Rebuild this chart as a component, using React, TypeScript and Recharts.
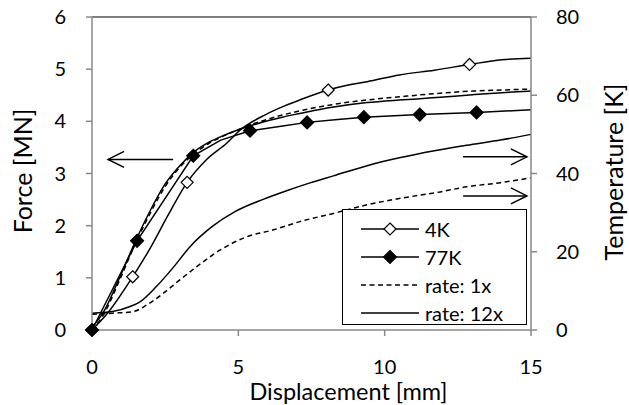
import React from "react";
import { ComposedChart, Legend, Line, ReferenceLine, XAxis, YAxis } from "recharts";

const FONT = "Lato, 'Open Sans', sans-serif";

const xTicks = [0, 5, 10, 15];
const forceTicks = [0, 1, 2, 3, 4, 5, 6];
const tempTicks = [0, 20, 40, 60, 80];

// 4K force, open diamonds
const k4X = [0, 0.5, 1.39, 2.0, 2.6, 3.25, 3.9, 4.6, 5.1, 5.9, 6.6, 7.1, 8.07, 8.8, 9.4, 10.5, 11.7, 12.9, 14, 15];
const k4Force = [0, 0.3, 1.02, 1.58, 2.2, 2.83, 3.26, 3.58, 3.85, 4.12, 4.3, 4.41, 4.6, 4.7, 4.76, 4.89, 4.98, 5.09, 5.18, 5.21];
const k4Markers = [0, 1.39, 3.25, 8.07, 12.9];

// 77K force, filled diamonds
const k77X = [0, 1.54, 3.46, 4.4, 5.4, 6.4, 7.35, 8.3, 9.29, 11.2, 13.14, 15];
const k77Force = [0, 1.71, 3.34, 3.64, 3.82, 3.9, 3.98, 4.03, 4.08, 4.13, 4.17, 4.22];
const k77Markers = [0, 1.54, 3.46, 5.4, 7.35, 9.29, 11.2, 13.14];

// rate 1x / 12x force
const rateX = [0, 0.4, 0.9, 1.5, 2.0, 2.5, 3.0, 3.5, 4.0, 4.5, 5.0, 5.5, 6.0, 6.5, 7.1, 8.2, 9.4, 10.5, 11.9, 13, 14, 15];
const rate1Force = [0, 0.3, 0.9, 1.68, 2.25, 2.75, 3.12, 3.38, 3.58, 3.72, 3.84, 3.95, 4.04, 4.12, 4.2, 4.32, 4.41, 4.47, 4.54, 4.58, 4.6, 4.62];
const rate12Force = [0.05, 0.35, 0.95, 1.72, 2.3, 2.8, 3.15, 3.42, 3.6, 3.73, 3.84, 3.93, 4.01, 4.08, 4.15, 4.27, 4.36, 4.41, 4.46, 4.51, 4.55, 4.58];

// rate 1x / 12x temperature
const rate1TempX = [0, 0.7, 1.4, 1.87, 2.44, 3.0, 3.58, 4.37, 5.28, 6.2, 7.1, 8.25, 9.4, 10.5, 11.9, 12.8, 13.9, 15];
const rate1Temp = [4, 4.3, 4.7, 6.4, 9.4, 12.8, 16.2, 20.4, 23.8, 25.6, 27.7, 29.8, 32, 33.6, 35.3, 36.6, 37.6, 38.9];
const rate12TempX = [0, 0.7, 1.3, 1.64, 2.2, 2.8, 3.35, 4.1, 4.9, 5.85, 6.65, 7.45, 8.25, 9.4, 10.5, 11.7, 12.8, 14, 15];
const rate12Temp = [4.3, 4.7, 6, 7.2, 11.1, 16.2, 21.3, 26.4, 30.3, 33.4, 35.6, 37.6, 39.4, 42.0, 44.0, 45.8, 47.2, 48.6, 50];

// annotation arrows (force axis units)
const arrowFrom = [2.77, 12.68, 12.68];
const arrowTo = [0.55, 14.86, 14.86];
const arrowY = [3.27, 3.32, 2.57];

const rows = (xs: number[], ys: number[]) => xs.map((x, i) => ({ x, y: ys[i] }));

const diamond = (cx: number, cy: number, r: number) =>
  `M${cx},${cy - r}L${cx + r},${cy}L${cx},${cy + r}L${cx - r},${cy}Z`;

const markerDot = (marks: number[], filled: boolean) => (props: any) => {
  const { cx, cy, payload, index } = props;
  if (!marks.includes(payload.x)) return <g key={`d${index}`} />;
  return (
    <path
      key={`d${index}`}
      d={diamond(cx, cy, filled ? 6.5 : 6)}
      fill={filled ? "#000" : "#fff"}
      stroke="#000"
      strokeWidth={1.2}
    />
  );
};

const Arrow = (props: any) => {
  const { x1, y1, x2, y2 } = props;
  const dir = x2 > x1 ? -1 : 1;
  return (
    <g stroke="#000" strokeWidth={1.5} fill="none">
      <line x1={x1} y1={y1} x2={x2} y2={y2} />
      <polyline points={`${x2 + dir * 16},${y2 - 8} ${x2},${y2} ${x2 + dir * 16},${y2 + 8}`} />
    </g>
  );
};

const legendItems = [
  { name: "4K", dash: undefined, mark: "open" },
  { name: "77K", dash: undefined, mark: "filled" },
  { name: "rate: 1x", dash: "5 3.5", mark: "" },
  { name: "rate: 12x", dash: undefined, mark: "" },
];

function LegendBox() {
  return (
    <div
      style={{
        position: "relative",
        width: 185,
        height: 116,
        boxSizing: "border-box",
        border: "1.5px solid #000",
        background: "#fff",
        fontFamily: FONT,
        fontSize: 20,
        color: "#000",
      }}
    >
      {legendItems.map((it, i) => (
        <div key={it.name} style={{ position: "absolute", left: 0, top: 5 + i * 28, height: 28, display: "flex", alignItems: "center" }}>
          <svg width={82} height={28}>
            <line x1={18} y1={14} x2={76} y2={14} stroke="#000" strokeWidth={1.5} strokeDasharray={it.dash} />
            {it.mark && (
              <path d={diamond(47, 14, it.mark === "filled" ? 6.5 : 6)} fill={it.mark === "filled" ? "#000" : "#fff"} stroke="#000" strokeWidth={1.2} />
            )}
          </svg>
          <span style={{ lineHeight: "28px" }}>{it.name}</span>
        </div>
      ))}
    </div>
  );
}

const tickStyle = { fill: "#000", fontSize: 20, fontFamily: FONT };
const axisStroke = "#888";

export default function App() {
  return (
    <div style={{ position: "fixed", left: 0, top: 0, width: 629, height: 405, background: "#fff" }}>
      <ComposedChart width={629} height={405} margin={{ top: 17, right: 0, bottom: 0, left: 0 }}>
        <XAxis
          dataKey="x"
          type="number"
          domain={[0, 15]}
          ticks={xTicks}
          allowDuplicatedCategory={false}
          height={75}
          stroke={axisStroke}
          strokeWidth={1.5}
          tickSize={6}
          tickMargin={24}
          tick={tickStyle}
          label={{
            content: ({ viewBox }: any) => (
              <text x={viewBox.x + viewBox.width / 2 + 37} y={400} textAnchor="middle" fontFamily={FONT} fontSize={23.5} fill="#000">
                Displacement [mm]
              </text>
            ),
          }}
        />
        <YAxis
          yAxisId="left"
          type="number"
          domain={[0, 6]}
          ticks={forceTicks}
          width={92}
          stroke={axisStroke}
          strokeWidth={1.5}
          tickSize={6}
          tickMargin={20}
          tick={tickStyle}
          label={{
            content: () => (
              <text x={32} y={171} transform="rotate(-90 32 171)" textAnchor="middle" fontFamily={FONT} fontSize={25} fill="#000">
                Force [MN]
              </text>
            ),
          }}
        />
        <YAxis
          yAxisId="right"
          orientation="right"
          type="number"
          domain={[0, 80]}
          ticks={tempTicks}
          width={98}
          stroke={axisStroke}
          strokeWidth={1.5}
          tickSize={6}
          tickMargin={19}
          tick={tickStyle}
          label={{
            content: () => (
              <text x={623} y={172} transform="rotate(-90 623 172)" textAnchor="middle" fontFamily={FONT} fontSize={25} fill="#000">
                Temperature [K]
              </text>
            ),
          }}
        />
        <ReferenceLine yAxisId="left" y={6} stroke="#555" strokeWidth={1.5} />

        <Line yAxisId="right" data={rows(rate1TempX, rate1Temp)} dataKey="y" type="monotone" stroke="#000" strokeWidth={1.5} strokeDasharray="5 3.5" dot={false} isAnimationActive={false} />
        <Line yAxisId="right" data={rows(rate12TempX, rate12Temp)} dataKey="y" type="monotone" stroke="#000" strokeWidth={1.5} dot={false} isAnimationActive={false} />
        <Line yAxisId="left" data={rows(rateX, rate1Force)} dataKey="y" type="monotone" stroke="#000" strokeWidth={1.5} strokeDasharray="5 3.5" dot={false} isAnimationActive={false} />
        <Line yAxisId="left" data={rows(rateX, rate12Force)} dataKey="y" type="monotone" stroke="#000" strokeWidth={1.5} dot={false} isAnimationActive={false} />
        <Line yAxisId="left" data={rows(k4X, k4Force)} dataKey="y" type="monotone" stroke="#000" strokeWidth={1.5} dot={markerDot(k4Markers, false)} activeDot={false} isAnimationActive={false} />
        <Line yAxisId="left" data={rows(k77X, k77Force)} dataKey="y" type="linear" stroke="#000" strokeWidth={1.5} dot={markerDot(k77Markers, true)} activeDot={false} isAnimationActive={false} />

        {arrowY.map((y, i) => (
          <ReferenceLine
            key={`arrow${i}`}
            yAxisId="left"
            segment={[{ x: arrowFrom[i], y }, { x: arrowTo[i], y }]}
            shape={Arrow}
          />
        ))}

        <Legend
          layout="horizontal"
          verticalAlign="middle"
          align="center"
          wrapperStyle={{ left: 342, top: 209, width: 185, height: 116 }}
          content={<LegendBox />}
        />
      </ComposedChart>
    </div>
  );
}
